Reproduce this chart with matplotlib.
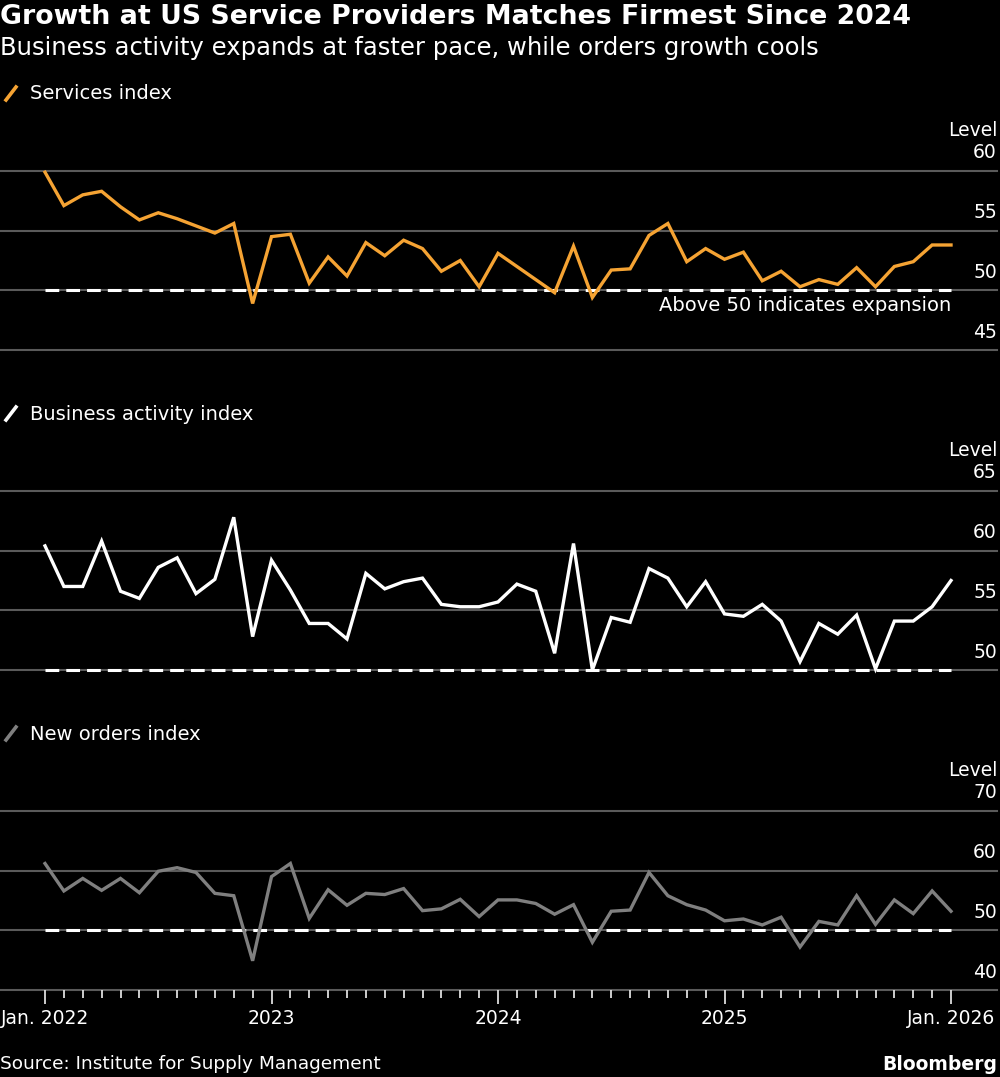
import numpy as np
import matplotlib
matplotlib.use("Agg")
import matplotlib.pyplot as plt
from matplotlib.lines import Line2D

# monthly values, Jan. 2022 .. Jan. 2026
services = [59.9, 57.1, 58.0, 58.3, 57.0, 55.9, 56.5, 56.0, 55.4, 54.8, 55.6, 48.9,
            54.5, 54.7, 50.6, 52.8, 51.2, 54.0, 52.9, 54.2, 53.5, 51.6, 52.5, 50.3,
            53.1, 52.0, 50.9, 49.8, 53.7, 49.4, 51.7, 51.8, 54.6, 55.6, 52.4, 53.5,
            52.6, 53.2, 50.8, 51.6, 50.3, 50.9, 50.5, 51.9, 50.3, 52.0, 52.4, 53.8, 53.8]
activity = [60.4, 57.0, 57.0, 60.8, 56.6, 56.0, 58.6, 59.4, 56.4, 57.6, 62.8, 52.8,
            59.2, 56.7, 53.9, 53.9, 52.6, 58.1, 56.8, 57.4, 57.7, 55.5, 55.3, 55.3,
            55.7, 57.2, 56.6, 51.4, 60.6, 50.0, 54.4, 54.0, 58.5, 57.7, 55.3, 57.4,
            54.7, 54.5, 55.5, 54.1, 50.7, 53.9, 53.0, 54.6, 50.1, 54.1, 54.1, 55.3, 57.5]
orders = [61.2, 56.6, 58.7, 56.7, 58.7, 56.3, 59.9, 60.5, 59.7, 56.2, 55.8, 44.9,
          59.0, 61.2, 52.0, 56.8, 54.2, 56.2, 56.0, 57.0, 53.3, 53.6, 55.2, 52.3,
          55.1, 55.1, 54.5, 52.7, 54.3, 48.0, 53.2, 53.4, 59.7, 55.8, 54.3, 53.4,
          51.6, 51.9, 50.9, 52.2, 47.2, 51.5, 50.9, 55.8, 51.0, 55.1, 52.8, 56.6, 53.2]

panel_names = ["Services index", "Business activity index", "New orders index"]
panel_colors = ["#f5a333", "#ffffff", "#7f7f7f"]
panel_ticks = [[45, 50, 55, 60], [50, 55, 60, 65], [40, 50, 60, 70]]
year_labels = ["Jan. 2022", "2023", "2024", "2025", "Jan. 2026"]

W, H = 1000, 1077
fig = plt.figure(figsize=(W / 100, H / 100), dpi=100, facecolor="black")
FONT = "DejaVu Sans"
grid_c = "#5a5a5a"


def fy(py):
    return 1 - py / H


fig.text(0.0, fy(17), "Growth at US Service Providers Matches Firmest Since 2024",
         color="white", fontsize=19.3, fontweight="bold", family=FONT, va="center")
fig.text(0.0, fy(48), "Business activity expands at faster pace, while orders growth cools",
         color="white", fontsize=17.5, family=FONT, va="center")

tops = [171, 491, 811]
x = np.arange(len(services))
series = [services, activity, orders]

for k in range(3):
    top = tops[k]
    bot = top + 179
    ax = fig.add_axes([0, fy(bot), 0.997, (bot - top) / H])
    ax.set_facecolor("black")
    lo, hi = panel_ticks[k][0], panel_ticks[k][-1]
    ax.set_ylim(lo, hi)
    ax.set_xlim(-45 / 18.875, (997 - 45) / 18.875)
    for t in panel_ticks[k]:
        ax.axhline(t, color=grid_c, lw=1.5, zorder=1, clip_on=False)
    ax.plot([x[0], x[-1]], [50, 50], color="white", lw=2.2, ls=(0, (4.5, 2.3)),
            zorder=2, clip_on=False)
    ax.plot(x, series[k], color=panel_colors[k], lw=2.4, zorder=3,
            solid_joinstyle="miter", clip_on=False)
    for s in ax.spines.values():
        s.set_visible(False)
    ax.set_yticks([])
    if k < 2:
        ax.set_xticks([])
    else:
        ax.set_xticks(x, minor=True)
        ax.set_xticks(x[::12])
        ax.set_xticklabels(year_labels, color="white", fontsize=13.5, family=FONT)
        ax.tick_params(axis="x", which="major", length=10, width=1.3, color="#dddddd", pad=4)
        ax.tick_params(axis="x", which="minor", length=6, width=1.3, color="#dddddd")
    # y labels above gridlines, right aligned
    for t in panel_ticks[k]:
        py = bot - (t - lo) / (hi - lo) * 179
        fig.text(0.997, fy(py - 18), str(t), color="white", fontsize=13.5,
                 family=FONT, ha="right", va="center")
    fig.text(0.997, fy(top - 41), "Level", color="white", fontsize=13.5,
             family=FONT, ha="right", va="center")
    # legend entry
    ly = top - 78
    fig.add_artist(Line2D([6 / W, 16 / W], [fy(ly + 7), fy(ly - 6)],
                          color=panel_colors[k], lw=2.6, transform=fig.transFigure))
    fig.text(30 / W, fy(ly + 1), panel_names[k], color="white", fontsize=14,
             family=FONT, va="center")
    if k == 0:
        fig.text(951 / W, fy(306), "Above 50 indicates expansion", color="white",
                 fontsize=14, family=FONT, ha="right", va="center")

fig.text(0.0, fy(1064), "Source: Institute for Supply Management", color="white",
         fontsize=13.3, family=FONT, va="center")
fig.text(0.997, fy(1064), "Bloomberg", color="white", fontsize=13.5,
         fontweight="bold", family=FONT, ha="right", va="center")

fig.savefig("out.png", dpi=100, facecolor="black")
